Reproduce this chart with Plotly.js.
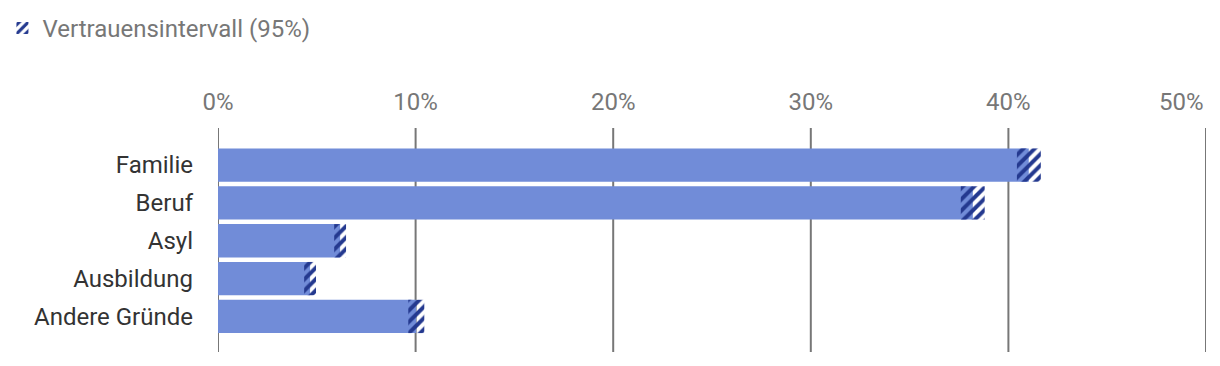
<!DOCTYPE html>
<html><head><meta charset="utf-8">
<script src="https://cdn.plot.ly/plotly-3.0.1.min.js"></script>
<style>body{margin:0;background:#fff}#c{width:1220px;height:366px}</style>
</head><body><div id="c"></div>
<script>
const categories = ["Familie", "Beruf", "Asyl", "Ausbildung", "Andere Gründe"];
const estimate = [41.03, 38.2, 6.18, 4.66, 10.03];
const ciLower = [40.43, 37.59, 5.88, 4.36, 9.63];
const ciUpper = [41.64, 38.8, 6.48, 4.96, 10.44];
const tickValues = [0, 10, 20, 30, 40, 50];
const tickLabels = ["0%", "10%", "20%", "30%", "40%", "50%"];

const barColor = "#718cd8";
const hatchColor = "#24398f";
const gridColor = "#777777";
const FS = 24;

const traces = [
  {
    type: "bar", orientation: "h", y: categories, x: estimate,
    marker: {color: barColor, line: {width: 0}},
    showlegend: false, hoverinfo: "skip", width: 0.88
  },
  {
    type: "bar", orientation: "h", y: categories,
    x: ciUpper.map((u, i) => u - ciLower[i]), base: ciLower,
    name: "Vertrauensintervall (95%)",
    marker: {color: "rgba(0,0,0,0)", line: {width: 0},
      pattern: {shape: "/", fgcolor: hatchColor, fgopacity: 1, bgcolor: "rgba(0,0,0,0)", size: 8, solidity: 0.5, fillmode: "overlay"}},
    showlegend: true, width: 0.88
  }
];

const shapes = tickValues.map(v => ({
  type: "line", xref: "x", yref: "paper", x0: v, x1: v, y0: 0, y1: 1,
  line: {color: gridColor, width: 2}, layer: "below"
}));

const last = tickValues.length - 1;
const annotations = [{
  xref: "x", yref: "paper", x: tickValues[last], y: 1, xanchor: "right", yanchor: "bottom",
  yshift: 10, text: tickLabels[last], showarrow: false,
  font: {family: "Roboto, sans-serif", size: FS, color: "#777"}
}];

const layout = {
  width: 1220, height: 366,
  margin: {l: 218, r: 14, t: 128, b: 14},
  paper_bgcolor: "#fff", plot_bgcolor: "#fff",
  barmode: "overlay",
  font: {family: "Roboto, sans-serif", size: FS, color: "#333"},
  xaxis: {
    range: [0, 50], side: "top", tickvals: tickValues.slice(0, last), ticktext: tickLabels.slice(0, last),
    showgrid: false, zeroline: false, showline: false,
    ticks: "", ticklabelstandoff: 12,
    tickfont: {family: "Roboto, sans-serif", size: FS, color: "#777"},
    fixedrange: true
  },
  yaxis: {
    type: "category", range: [4.94, -0.98], showgrid: false, zeroline: false,
    showline: false, ticks: "", ticklabelstandoff: 24,
    tickfont: {family: "Roboto, sans-serif", size: FS, color: "#333"},
    fixedrange: true
  },
  shapes: shapes,
  annotations: annotations,
  showlegend: true,
  legend: {
    orientation: "h", xref: "container", yref: "container",
    x: 0.002, y: 0.984, xanchor: "left", yanchor: "top",
    font: {family: "Roboto, sans-serif", size: FS, color: "#777"},
    bgcolor: "rgba(0,0,0,0)"
  }
};

Plotly.newPlot("c", traces, layout, {displayModeBar: false, staticPlot: true});
</script></body></html>
